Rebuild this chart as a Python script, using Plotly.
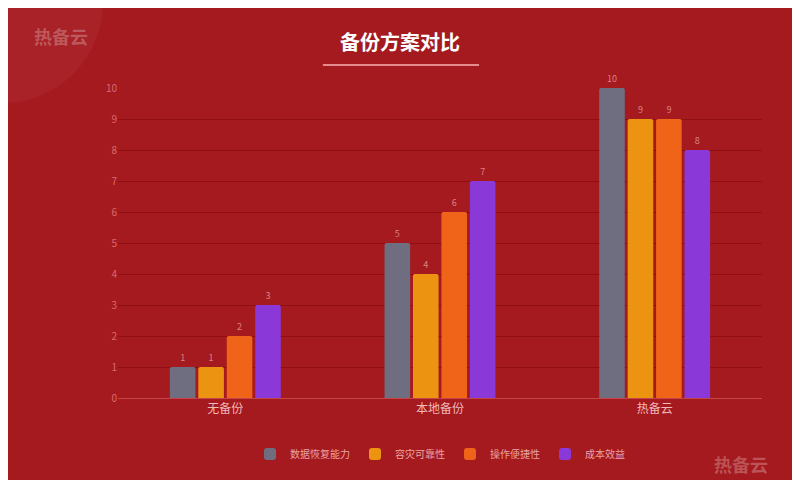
import plotly.graph_objects as go

categories = ["无备份", "本地备份", "热备云"]
series_names = ["数据恢复能力", "容灾可靠性", "操作便捷性", "成本效益"]
values = [[1, 5, 10], [1, 4, 9], [2, 6, 9], [3, 7, 8]]
colors = ["#6e6e80", "#ec9412", "#ef6418", "#8a38d8"]
y_ticks = list(range(0, 11))

def px_x(p): return (p - 110) / 660
def px_y(p): return (390 - p) / 310

fig = go.Figure()
for name, vals, c in zip(series_names, values, colors):
    fig.add_bar(x=categories, y=vals, name=name, marker=dict(color=c, line=dict(width=0)),
                text=[str(v) for v in vals], textposition="outside",
                textfont=dict(size=9, color="rgba(255,200,200,0.6)"), cliponaxis=False)

fig.update_layout(
    autosize=True, barmode="group", bargap=0.47, bargroupgap=0.1, barcornerradius=2,
    paper_bgcolor="#a51a1f", plot_bgcolor="rgba(0,0,0,0)",
    margin=dict(l=110, r=30, t=80, b=90),
    font=dict(family="Noto Sans CJK SC", color="rgba(255,210,210,0.8)"),
    title=dict(text="<b>备份方案对比</b>", x=0.5, xanchor="center", yref="container",
               y=1 - 35 / 480, yanchor="middle", font=dict(size=20, color="white")),
    xaxis=dict(showgrid=False, showline=True, linecolor="rgba(255,150,150,0.35)",
               tickfont=dict(size=12, color="rgba(255,215,215,0.85)"), ticks="", ticklen=8),
    yaxis=dict(range=[0, 10], tickvals=y_ticks, gridcolor="rgba(120,0,0,0.45)",
               zeroline=False, tickfont=dict(size=10, color="rgba(255,160,160,0.6)"), ticks=""),
    legend=dict(orientation="h", x=0.5, xanchor="center", y=px_y(446), yanchor="middle",
                font=dict(size=10, color="rgba(255,200,200,0.8)"), itemwidth=30),
    shapes=[dict(type="line", xref="paper", yref="paper", x0=px_x(320), x1=px_x(480),
                 y0=px_y(57), y1=px_y(57), line=dict(color="rgba(255,190,190,0.7)", width=2)),
            dict(type="circle", xref="paper", yref="paper", x0=px_x(-110), x1=px_x(95),
                 y0=px_y(95), y1=px_y(-110),
                 fillcolor="rgba(255,255,255,0.04)", line_width=0, layer="below")],
    annotations=[
        dict(text="<b>热备云</b>", xref="paper", yref="paper", x=px_x(22), y=px_y(28),
             xanchor="left", yanchor="middle", showarrow=False,
             font=dict(size=18, color="rgba(255,255,255,0.25)")),
        dict(text="<b>热备云</b>", xref="paper", yref="paper", x=px_x(778), y=px_y(456),
             xanchor="right", yanchor="middle", showarrow=False,
             font=dict(size=18, color="rgba(255,255,255,0.25)")),
    ],
)
fig.write_html("out.html", config={"responsive": True}, default_width="100%", default_height="100vh")
